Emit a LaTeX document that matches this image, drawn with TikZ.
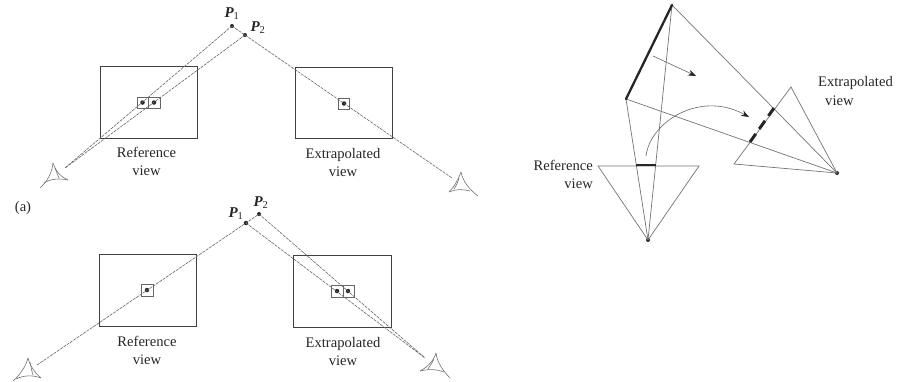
\documentclass[tikz,border=0pt]{standalone}
\usepackage{fontspec}
\setmainfont{Liberation Serif}
\usetikzlibrary{arrows.meta}
\tikzset{
  lbl/.style={font=\fontsize{14.6}{16}\selectfont,inner sep=0pt,align=center,text=black!85},
  plabel/.style={font=\fontsize{15}{16}\selectfont\bfseries\itshape,inner sep=0pt,text=black!85},
  viewbox/.style={draw=black!75,line width=1pt},
  smallbox/.style={draw=black!60,line width=0.6pt},
  ptdot/.style={circle,fill=black!85,inner sep=0pt,minimum size=4.5pt},
  rayline/.style={draw=black!60,line width=0.6pt,dash pattern=on 3pt off 1pt},
  eyeshape/.style={draw=black!55,line width=0.6pt},
  conv/.style={draw=black!55,line width=0.7pt},
  thickseg/.style={draw=black!85,line width=2.3pt},
  thickdash/.style={draw=black!85,line width=3pt,dash pattern=on 10pt off 6pt},
  pointer/.style={draw=black!60,line width=0.6pt,-{Stealth[length=8pt,width=6pt,black!85]}}
}
\newcommand{\Psub}[2]{#1\textsubscript{\normalfont\mdseries\upshape #2}}
\begin{document}
\begin{tikzpicture}[x=1pt,y=-1pt]
\useasboundingbox (0,0) rectangle (901,381);
% Panel a
\node[viewbox,minimum width=97pt,minimum height=72pt,inner sep=0pt] (aR) at (148.5,102) {};
\node[viewbox,minimum width=97pt,minimum height=71pt,inner sep=0pt] (aE) at (343.5,102.5) {};
\node[smallbox,minimum width=11pt,minimum height=11pt,inner sep=0pt] (aRb1) at (142.5,102.5) {};
\node[smallbox,minimum width=12pt,minimum height=11pt,inner sep=0pt] (aRb2) at (154,102.5) {};
\node[smallbox,minimum width=11pt,minimum height=11pt,inner sep=0pt] (aEb) at (343.5,103.5) {};
\node[ptdot] (aRd1) at (142.5,102.5) {};
\node[ptdot] (aRd2) at (154,102.5) {};
\node[ptdot] (aEd) at (344,103.5) {};
\node[ptdot,minimum size=4pt] (aP1) at (232,26) {};
\node[ptdot,minimum size=4pt] (aP2) at (245,35) {};
\coordinate (aeL) at (65,168);
\coordinate (aeR) at (452,178);
\draw[rayline] (aP1.center) -- (aeL);
\draw[rayline] (aP2.center) -- (aeL);
\draw[rayline] (aP1.center) -- (aP2.center) -- (aeR);
\node[plabel] (aP1l) at (232,14) {\Psub{P}{1}};
\node[plabel] (aP2l) at (258,28) {\Psub{P}{2}};
\node[lbl] (aRl) at (146.5,161.5) {Reference\\[2.5pt]view};
\node[lbl] (aEl) at (343,162.5) {Extrapolated\\[2.5pt]view};
% left eye a
\draw[eyeshape] (53,163) .. controls (52,172) and (48,181) .. (40,188);
\draw[eyeshape] (53,163) .. controls (56,172) and (61,177) .. (68,180);
\draw[eyeshape] (44,183) .. controls (50,179) and (59,178) .. (68,180);
\draw[eyeshape] (55,168) .. controls (57,173) and (58,176) .. (59,178);
% right eye a
\draw[eyeshape] (461,172) .. controls (458,180) and (454,187) .. (449,192);
\draw[eyeshape] (461,172) .. controls (463,182) and (470,190) .. (478,196);
\draw[eyeshape] (449,192) .. controls (456,189) and (462,189) .. (470,191);
\draw[eyeshape] (459,178) .. controls (458,182) and (456,186) .. (454,189);
\node[lbl] (alab) at (23,208) {(a)};
% Panel b
\node[viewbox,minimum width=97pt,minimum height=72pt,inner sep=0pt] (bR) at (147.5,290) {};
\node[viewbox,minimum width=98pt,minimum height=72pt,inner sep=0pt] (bE) at (342,291) {};
\node[smallbox,minimum width=12pt,minimum height=12pt,inner sep=0pt] (bRb) at (147,290) {};
\node[smallbox,minimum width=12pt,minimum height=12pt,inner sep=0pt] (bEb1) at (337,291) {};
\node[smallbox,minimum width=11pt,minimum height=12pt,inner sep=0pt] (bEb2) at (348.5,291) {};
\node[ptdot] (bRd) at (147,290) {};
\node[ptdot] (bEd1) at (337,291) {};
\node[ptdot] (bEd2) at (348,291) {};
\node[ptdot] (bP1) at (246,223) {};
\node[ptdot,minimum size=4pt] (bP2) at (259,214) {};
\coordinate (beL) at (37,365);
\coordinate (beR) at (425,358);
\draw[rayline] (beL) -- (bP1.center) -- (bP2.center);
\draw[rayline] (bP1.center) -- (beR);
\draw[rayline] (bP2.center) -- (beR);
\node[plabel] (bP1l) at (236,214) {\Psub{P}{1}};
\node[plabel] (bP2l) at (261,203) {\Psub{P}{2}};
\node[lbl] (bRl) at (147,350.5) {Reference\\[2.5pt]view};
\node[lbl] (bEl) at (343,351.5) {Extrapolated\\[2.5pt]view};
% left eye b
\draw[eyeshape] (28,358) .. controls (26,366) and (20,375) .. (13,381);
\draw[eyeshape] (28,358) .. controls (30,366) and (35,373) .. (41,378);
\draw[eyeshape] (16,379) .. controls (24,375) and (33,375) .. (41,378);
\draw[eyeshape] (30,362) .. controls (31,367) and (32,372) .. (33,375);
% right eye b
\draw[eyeshape] (436,353) .. controls (434,360) and (428,367) .. (420,371);
\draw[eyeshape] (436,353) .. controls (437,362) and (443,371) .. (450,378);
\draw[eyeshape] (420,371) .. controls (428,369) and (436,369) .. (444,372);
\draw[eyeshape] (434,359) .. controls (432,363) and (430,366) .. (428,369);
% Right diagram
\node[ptdot,minimum size=4pt] (rEye) at (648,240) {};
\node[ptdot,minimum size=4pt] (xEye) at (837,173) {};
\coordinate (Top) at (672,5);
\coordinate (Low) at (626,99);
\coordinate (rT1) at (598,166);
\coordinate (rT2) at (699,166);
\coordinate (xT1) at (791,87);
\coordinate (xT2) at (734,164);
\coordinate (rS1) at (636,165);
\coordinate (rS2) at (656,165);
\coordinate (xS1) at (750,142);
\coordinate (xS2) at (774,108);
\draw[conv] (rEye.center) -- (rT1) -- (rT2) -- cycle;
\draw[conv] (xEye.center) -- (xT1) -- (xT2) -- cycle;
\draw[conv] (Top) -- (xEye.center);
\draw[conv] (Low) -- (xEye.center);
\draw[conv] (Top) -- (rEye.center);
\draw[conv] (Low) -- (rEye.center);
\draw[thickseg,line cap=round] (Top) -- (Low);
\draw[thickseg] (rS1) -- (rS2);
\draw[thickdash] (xS1) -- (xS2);
\coordinate (a1s) at (653,56);
\coordinate (a1e) at (696,76);
\draw[pointer] (a1s) -- (a1e);
\coordinate (a2s) at (646,156);
\coordinate (a2e) at (749,117);
\draw[pointer] (a2s) .. controls (650,122) and (700,90) .. (a2e);
\node[lbl,align=right,anchor=north east] (rLab) at (593,160) {Reference\\[2.5pt]view};
\node[lbl,anchor=west] (xLab1) at (818,83) {Extrapolated};
\node[lbl,anchor=west] (xLab2) at (825,101) {view};
\end{tikzpicture}
\end{document}
